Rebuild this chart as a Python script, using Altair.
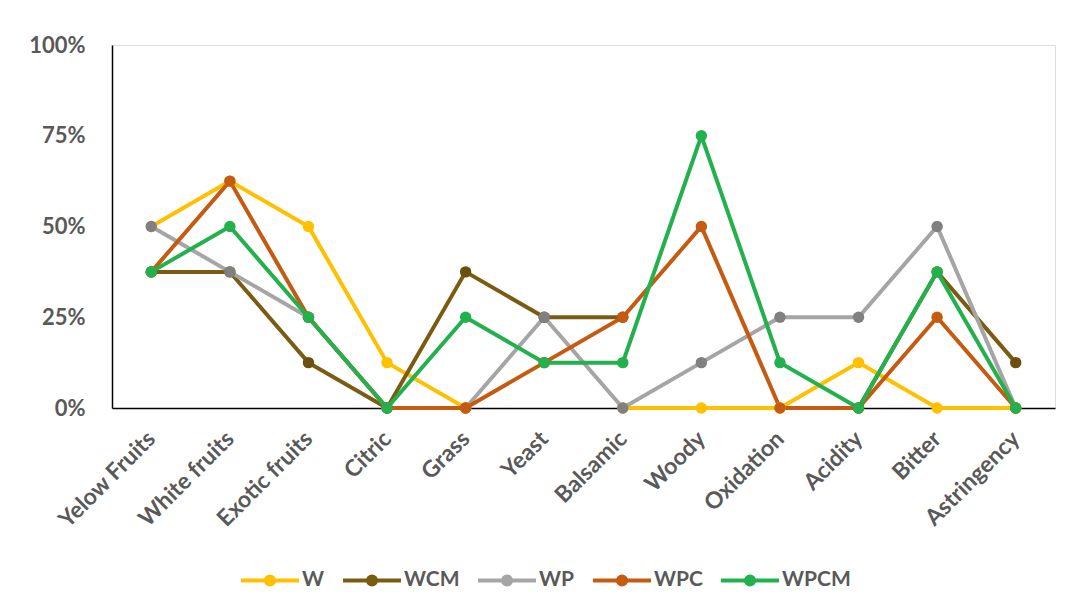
import altair as alt
import pandas as pd

categories = ["Yelow Fruits", "White fruits", "Exotic fruits", "Citric", "Grass", "Yeast",
              "Balsamic", "Woody", "Oxidation", "Acidity", "Bitter", "Astringency"]
series_names = ["W", "WCM", "WP", "WPC", "WPCM"]
W = [0.5, 0.625, 0.5, 0.125, 0.0, None, 0.0, 0.0, 0.0, 0.125, 0.0, 0.0]
WCM = [0.375, 0.375, 0.125, 0.0, 0.375, 0.25, 0.25, None, None, 0.0, 0.375, 0.125]
WP = [0.5, 0.375, 0.25, 0.0, 0.0, 0.25, 0.0, 0.125, 0.25, 0.25, 0.5, 0.0]
WPC = [0.375, 0.625, 0.25, 0.0, 0.0, 0.125, 0.25, 0.5, 0.0, 0.0, 0.25, 0.0]
WPCM = [0.375, 0.5, 0.25, 0.0, 0.25, 0.125, 0.125, 0.75, 0.125, 0.0, 0.375, 0.0]
line_colors = ["#FFC000", "#7A5B12", "#A5A5A5", "#C55A11", "#22B14C"]
marker_colors = ["#FFC000", "#6B4F0E", "#808080", "#C55A11", "#22B14C"]

rows = []
for name, vals in zip(series_names, [W, WCM, WP, WPC, WPCM]):
    for i, (c, v) in enumerate(zip(categories, vals)):
        rows.append({"category": c, "series": name, "value": v, "order": i})
df = pd.DataFrame(rows)

x = alt.X("category:N", sort=categories, title=None,
          scale=alt.Scale(paddingInner=0, paddingOuter=0),
          axis=alt.Axis(labelAngle=-45, labelAlign="right", labelBaseline="middle",
                        labelPadding=27, ticks=False, domainColor="#000000",
                        domainWidth=1.5, labelFont="Lato", labelFontSize=23,
                        labelFontWeight="bold", labelColor="#595959"))
y = alt.Y("value:Q", title=None, scale=alt.Scale(domain=[0, 1], nice=False),
          axis=alt.Axis(values=[0, 0.25, 0.5, 0.75, 1], format=".0%", grid=False,
                        ticks=False, domainColor="#000000", domainWidth=1.5,
                        labelPadding=27, labelFont="Lato", labelFontSize=22,
                        labelFontWeight="bold", labelColor="#595959"))

legend = alt.Legend(orient="none", legendX=127, legendY=504, direction="horizontal",
                    title=None,
                    symbolType="M-1,0L1,0M0.14,0A0.14,0.14,0,1,1,-0.14,0A0.14,0.14,0,1,1,0.14,0",
                    symbolSize=3364, symbolStrokeWidth=4, labelOffset=1,
                    columnPadding=10, labelFont="Lato", labelFontSize=21,
                    labelFontWeight="bold", labelColor="#595959")

lines = alt.Chart(df).mark_line(strokeWidth=4, invalid="break-paths-show-domains").encode(
    x=x, y=y,
    color=alt.Color("series:N", scale=alt.Scale(domain=series_names, range=line_colors),
                    legend=legend),
    order="order:Q",
)
points = alt.Chart(df).mark_point(filled=True, size=130, strokeWidth=1, opacity=1).encode(
    x=x, y=y,
    fill=alt.Fill("series:N", scale=alt.Scale(domain=series_names, range=marker_colors),
                  legend=None),
)

chart = alt.layer(lines, points).properties(
    width=943, height=363,
    autosize=alt.AutoSizeParams(type="none"),
    padding={"left": 104, "top": 37, "right": 7, "bottom": 190},
).configure_view(stroke=None).configure(background="white")

chart.save("out.html", embed_options={"renderer": "svg", "actions": False})
